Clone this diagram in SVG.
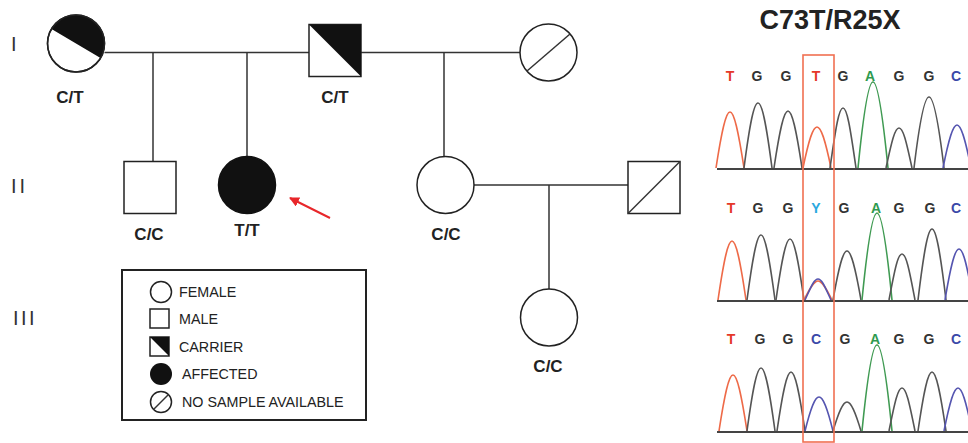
<svg xmlns="http://www.w3.org/2000/svg" width="968" height="443" viewBox="0 0 968 443">
<defs>
<style>
.ln{stroke:#333;stroke-width:1.5;fill:none}
.sh{stroke:#222;stroke-width:1.5;fill:#fff}
.blk{fill:#111;stroke:none}
.lbl{font-family:"Liberation Sans",Arial,sans-serif;font-weight:bold;font-size:17px;fill:#222;text-anchor:middle}
.gen{font-family:"Liberation Sans",Arial,sans-serif;font-size:20px;fill:#333}
.lg{font-family:"Liberation Sans",Arial,sans-serif;font-size:14.3px;fill:#222}
.base{font-family:"Liberation Sans",Arial,sans-serif;font-weight:bold;font-size:14px;text-anchor:middle}
.pk{fill:none;stroke-width:1.6;stroke-linejoin:round}
.r{stroke:#ee6a48}.g{stroke:#555}.gr{stroke:#3f9a52}.b{stroke:#5555b0}
</style>
<marker id="ah" viewBox="0 0 10 10" refX="9" refY="5" markerWidth="5" markerHeight="5" orient="auto">
<path d="M0,0 L10,5 L0,10 Z" fill="#e8262a"/>
</marker>
</defs>
<rect width="968" height="443" fill="#fff"/>

<g id="generations">
<text class="gen" x="11" y="51">I</text>
<text class="gen" x="11" y="193" letter-spacing="3">II</text>
<text class="gen" x="13" y="325" letter-spacing="2.5">III</text>
</g>

<g id="connectors">
<line class="ln" x1="104.5" y1="52.5" x2="309" y2="52.5"/>
<line class="ln" x1="153" y1="52.5" x2="153" y2="161.5"/>
<line class="ln" x1="247" y1="52.5" x2="247" y2="156.5"/>
<line class="ln" x1="361" y1="52.5" x2="520" y2="52.5"/>
<line class="ln" x1="444" y1="52.5" x2="444" y2="156.5"/>
<line class="ln" x1="474" y1="185" x2="628" y2="185"/>
<line class="ln" x1="549" y1="185" x2="549" y2="289"/>
<line x1="330" y1="218" x2="290" y2="198" stroke="#e8262a" stroke-width="2" marker-end="url(#ah)"/>
</g>

<g id="I-1">
<circle class="sh" cx="76" cy="43.5" r="28.5"/>
<path class="blk" d="M51.5,28.9 A28.5,28.5 0 0 1 100.5,58.1 Z"/>
<circle cx="76" cy="43.5" r="28.5" fill="none" stroke="#222" stroke-width="1.5"/>
<text class="lbl" x="70" y="103">C/T</text>
</g>
<g id="I-2">
<rect class="sh" x="309" y="24.5" width="52" height="52"/>
<path class="blk" d="M309,24.5 L361,24.5 L361,76.5 Z"/>
<text class="lbl" x="335" y="103">C/T</text>
</g>
<g id="I-3">
<circle class="sh" cx="548.5" cy="52.5" r="28.5"/>
<line class="ln" x1="527" y1="71" x2="570" y2="34"/>
</g>
<g id="II-1">
<rect class="sh" x="124" y="161.5" width="52" height="52"/>
<text class="lbl" x="149" y="240">C/C</text>
</g>
<g id="II-2">
<circle cx="247" cy="185" r="28.5" fill="#111" stroke="#111" stroke-width="1.5"/>
<text class="lbl" x="247" y="236">T/T</text>
</g>
<g id="II-3">
<circle class="sh" cx="445.5" cy="185" r="28.5"/>
<text class="lbl" x="446" y="240">C/C</text>
</g>
<g id="II-4">
<rect class="sh" x="628" y="161.5" width="52" height="52"/>
<line class="ln" x1="628" y1="213.5" x2="680" y2="161.5"/>
</g>
<g id="III-1">
<circle class="sh" cx="549" cy="317.5" r="28.5"/>
<text class="lbl" x="548" y="372">C/C</text>
</g>

<g id="legend">
<rect x="122" y="270" width="244" height="150" fill="#fff" stroke="#222" stroke-width="2"/>
<circle class="sh" cx="161" cy="292" r="10.5"/>
<text class="lg" x="179" y="297">FEMALE</text>
<rect class="sh" x="150" y="309" width="19" height="19"/>
<text class="lg" x="179" y="324">MALE</text>
<rect class="sh" x="150" y="337" width="19" height="19"/>
<path class="blk" d="M150,337 L169,337 L169,356 Z"/>
<text class="lg" x="179" y="352">CARRIER</text>
<circle cx="161" cy="374" r="11" fill="#111"/>
<text class="lg" x="182" y="379">AFFECTED</text>
<circle class="sh" cx="161" cy="402" r="10.5"/>
<line class="ln" x1="153.5" y1="409.5" x2="168.5" y2="394.5"/>
<text class="lg" x="182" y="407">NO SAMPLE AVAILABLE</text>
</g>

<g id="chromatogram">
<text x="830" y="29" font-family="Liberation Sans,Arial,sans-serif" font-weight="bold" font-size="27" fill="#222" text-anchor="middle">C73T/R25X</text>

<!-- panel 1 -->
<g class="base">
<text x="730" y="81" fill="#e5382a">T</text>
<text x="757" y="81" fill="#333">G</text>
<text x="786" y="81" fill="#333">G</text>
<text x="816" y="81" fill="#e5382a">T</text>
<text x="843" y="81" fill="#333">G</text>
<text x="870" y="81" fill="#2f9a4f">A</text>
<text x="899" y="81" fill="#333">G</text>
<text x="929" y="81" fill="#333">G</text>
<text x="956" y="81" fill="#3a48a8">C</text>
</g>
<path class="pk r" d="M716,168 C722,129 726,112 730,112 C734,112 738,129 744,168"/>
<path class="pk g" d="M744,168 C750,122 754,103 758,103 C762,103 766,122 772,168"/>
<path class="pk g" d="M774,168 C780,128 784,111 788,111 C792,111 796,128 802,168"/>
<path class="pk r" d="M803,168 C809,139 813,127 817,127 C821,127 825,139 831,168"/>
<path class="pk g" d="M830,168 C836,126 839,108 843,108 C847,108 850,126 856,168"/>
<path class="pk gr" d="M858,168 C864,108 869,82 873,82 C877,82 882,108 888,168"/>
<path class="pk g" d="M886,168 C892,140 895,128 899,128 C903,128 906,140 912,168"/>
<path class="pk g" d="M914,168 C920,118 925,97 929,97 C933,97 938,118 944,168"/>
<path class="pk b" d="M943,168 C949,138 953,125 957,125 C961,125 965,138 971,168"/>
<line x1="717" y1="169" x2="968" y2="169" stroke="#444" stroke-width="2"/>

<!-- panel 2 -->
<g class="base">
<text x="731" y="213" fill="#e5382a">T</text>
<text x="758" y="213" fill="#333">G</text>
<text x="788" y="213" fill="#333">G</text>
<text x="816" y="213" fill="#2aa8e0">Y</text>
<text x="844" y="213" fill="#333">G</text>
<text x="876" y="213" fill="#2f9a4f">A</text>
<text x="899" y="213" fill="#333">G</text>
<text x="930" y="213" fill="#333">G</text>
<text x="956" y="213" fill="#3a48a8">C</text>
</g>
<path class="pk r" d="M718,300 C724,259 728,241 732,241 C736,241 740,259 746,300"/>
<path class="pk g" d="M747,300 C753,255 757,235 761,235 C765,235 769,255 775,300"/>
<path class="pk g" d="M776,300 C782,258 786,239 790,239 C794,239 798,258 804,300"/>
<path class="pk r" d="M804,300 C810,288 814,281 818,281 C822,281 826,288 832,300"/>
<path class="pk b" d="M805,300 C811,287 814,279 818,279 C822,279 825,287 831,300"/>
<path class="pk g" d="M833,300 C839,266 843,251 847,251 C851,251 855,266 861,300"/>
<path class="pk gr" d="M862,300 C868,239 873,213 877,213 C881,213 886,239 892,300"/>
<path class="pk g" d="M889,300 C895,268 898,254 902,254 C906,254 909,268 915,300"/>
<path class="pk g" d="M918,300 C924,250 928,229 932,229 C936,229 940,250 946,300"/>
<path class="pk b" d="M945,300 C951,264 955,249 959,249 C963,249 967,264 973,300"/>
<line x1="717" y1="301" x2="968" y2="301" stroke="#444" stroke-width="2"/>

<!-- panel 3 -->
<g class="base">
<text x="731" y="344" fill="#e5382a">T</text>
<text x="760" y="344" fill="#333">G</text>
<text x="788" y="344" fill="#333">G</text>
<text x="816" y="344" fill="#3a48a8">C</text>
<text x="845" y="344" fill="#333">G</text>
<text x="875" y="344" fill="#2f9a4f">A</text>
<text x="899" y="344" fill="#333">G</text>
<text x="929" y="344" fill="#333">G</text>
<text x="956" y="344" fill="#3a48a8">C</text>
</g>
<path class="pk r" d="M719,431 C725,392 729,375 733,375 C737,375 741,392 747,431"/>
<path class="pk g" d="M747,431 C753,387 757,368 761,368 C765,368 769,387 775,431"/>
<path class="pk g" d="M777,431 C783,390 787,372 791,372 C795,372 799,390 805,431"/>
<path class="pk b" d="M805,431 C811,407 815,397 819,397 C823,397 827,407 833,431"/>
<path class="pk g" d="M833,431 C839,411 843,402 847,402 C851,402 855,411 861,431"/>
<path class="pk gr" d="M862,431 C868,371 873,345 877,345 C881,345 886,371 892,431"/>
<path class="pk g" d="M889,431 C895,401 898,388 902,388 C906,388 909,401 915,431"/>
<path class="pk g" d="M918,431 C924,390 928,372 932,372 C936,372 940,390 946,431"/>
<path class="pk b" d="M944,431 C950,401 954,388 958,388 C962,388 966,401 972,431"/>
<line x1="717" y1="432" x2="968" y2="432" stroke="#444" stroke-width="2"/>

<rect x="803" y="55" width="31" height="387" fill="none" stroke="#f07052" stroke-width="1.6"/>
</g>
</svg>
